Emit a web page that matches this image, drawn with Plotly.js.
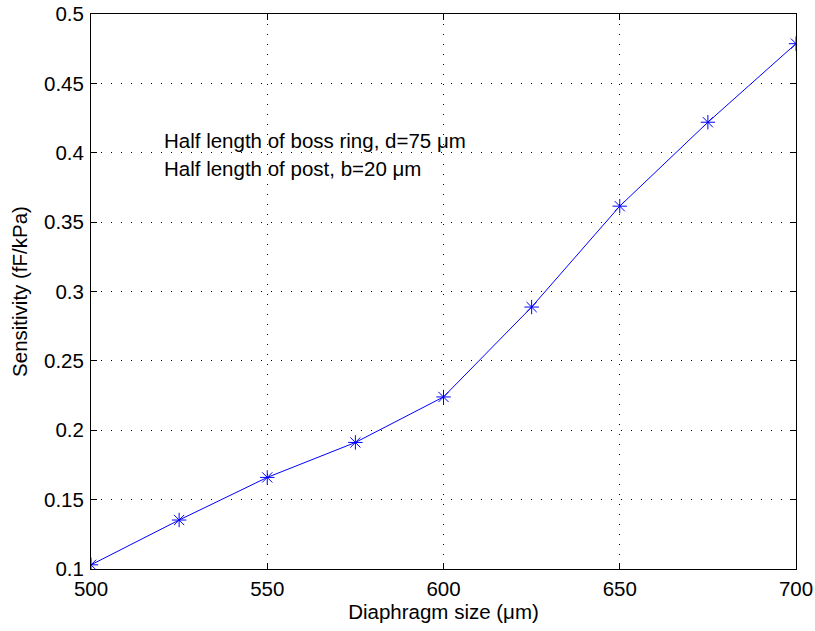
<!DOCTYPE html>
<html>
<head>
<meta charset="utf-8">
<script src="https://cdn.plot.ly/plotly-3.0.1.min.js"></script>
<style>
  html, body { margin: 0; padding: 0; background: #fff; }
  #chart { width: 815px; height: 631px; }
</style>
</head>
<body>
<div id="chart"></div>
<script>
// Diaphragm size (µm) vs. sensitivity (fF/kPa)
const diaphragmSize = [500, 525, 550, 575, 600, 625, 650, 675, 700];
const sensitivity = [0.103, 0.1353, 0.166, 0.1912, 0.224, 0.2888, 0.3615, 0.422, 0.4786];
const xTicks = [500, 550, 600, 650, 700];
const yTicks = [0.1, 0.15, 0.2, 0.25, 0.3, 0.35, 0.4, 0.45, 0.5];
const yTickLabels = ['0.1', '0.15', '0.2', '0.25', '0.3', '0.35', '0.4', '0.45', '0.5'];
const noteLines = ['Half length of boss ring, d=75 \u03bcm', 'Half length of post, b=20 \u03bcm'];
const noteX = 520;
const noteY = [0.4085, 0.3883];

const font = { family: 'Liberation Sans, Arial, sans-serif', size: 20.5, color: '#000' };

const axisCommon = {
  showline: true,
  linecolor: '#000',
  linewidth: 1,
  mirror: 'ticks',
  ticks: 'inside',
  ticklen: 6,
  tickcolor: '#000',
  showgrid: true,
  gridcolor: '#000',
  gridwidth: 1,
  griddash: '1px,9px',
  zeroline: false,
  tickfont: font
};

const trace = {
  x: diaphragmSize,
  y: sensitivity,
  type: 'scatter',
  mode: 'lines+markers',
  line: { color: '#0000ff', width: 1 },
  marker: { symbol: 'asterisk-open', size: 12, color: '#0000ff', line: { color: '#0000ff', width: 1 } },
  hoverinfo: 'x+y'
};

const layout = {
  width: 815,
  height: 631,
  margin: { l: 91, r: 19, t: 14, b: 62 },
  paper_bgcolor: '#fff',
  plot_bgcolor: '#fff',
  font: font,
  showlegend: false,
  xaxis: Object.assign({}, axisCommon, {
    range: [500, 700],
    tickvals: xTicks,
    ticktext: xTicks.map(String),
    ticklabelstandoff: 1,
    title: { text: 'Diaphragm size (\u03bcm)', font: font, standoff: 1 }
  }),
  yaxis: Object.assign({}, axisCommon, {
    range: [0.1, 0.5],
    tickvals: yTicks,
    ticktext: yTickLabels,
    ticklabelstandoff: 2,
    title: { text: 'Sensitivity (fF/kPa)', font: font, standoff: 10 }
  }),
  annotations: noteLines.map((t, i) => ({
    x: noteX, y: noteY[i], xref: 'x', yref: 'y',
    text: t, showarrow: false, xanchor: 'left', yanchor: 'middle',
    font: font
  }))
};

Plotly.newPlot('chart', [trace], layout, { displayModeBar: false, staticPlot: true });
</script>
</body>
</html>
